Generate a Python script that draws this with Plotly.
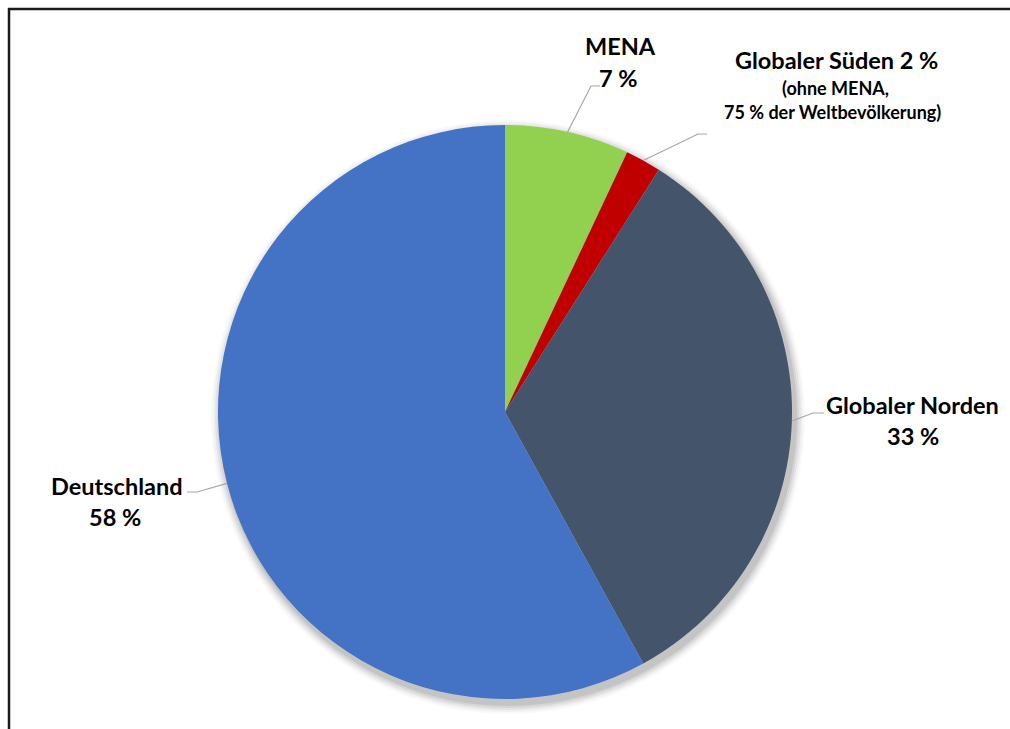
import math
import plotly.graph_objects as go

# Anteile der Regionen (in %), im Uhrzeigersinn ab 12 Uhr
regions = ["MENA", "Globaler Süden", "Globaler Norden", "Deutschland"]
shares = [7, 2, 33, 58]
colors = ["#92D050", "#C00000", "#44546A", "#4472C4"]
sued_note = ["(ohne MENA,", "75 % der Weltbevölkerung)"]

W, H = 1010, 729
CX, CY, R = 505, 412, 287  # pie centre and radius in pixels


def px(x):
    return x / W


def py(y):
    return 1 - y / H


def edge_point(idx):
    """Point on the pie rim at the middle of slice idx (clockwise from top)."""
    total = sum(shares)
    before = sum(shares[:idx])
    ang = 2 * math.pi * (before + shares[idx] / 2) / total
    return CX + R * math.sin(ang), CY - R * math.cos(ang)


fig = go.Figure()
fig.add_trace(go.Pie(
    labels=regions,
    values=shares,
    sort=False,
    direction="clockwise",
    rotation=0,
    marker=dict(colors=colors, line=dict(width=0)),
    textinfo="none",
    hoverinfo="label+percent",
    showlegend=False,
    domain=dict(x=[px(CX - R), px(CX + R)], y=[py(CY + R), py(CY - R)]),
))

shapes = []
# soft drop shadow behind the pie
for k, op in [(10, 0.025), (8, 0.035), (6, 0.05), (4, 0.06), (2, 0.08)]:
    ox, oy = 3, 5
    shapes.append(dict(
        type="circle", xref="paper", yref="paper", layer="below",
        x0=px(CX + ox - R - k), x1=px(CX + ox + R + k),
        y0=py(CY + oy + R + k), y1=py(CY + oy - R - k),
        fillcolor=f"rgba(0,0,0,{op})", line=dict(width=0),
    ))

# leader lines: rim point -> elbow -> horizontal end
elbows = {
    0: [(591, 86), (600, 86)],
    1: [(698, 134), (707, 134)],
    2: [(813, 413), (824, 413)],
    3: [(197, 492), (187, 492)],
}
for i, pts in elbows.items():
    x0, y0 = edge_point(i)
    path = f"M {px(x0)} {py(y0)}"
    for (x, y) in pts:
        path += f" L {px(x)} {py(y)}"
    shapes.append(dict(type="path", xref="paper", yref="paper", path=path,
                       line=dict(color="#A6A6A6", width=1.2)))

# outer frame (top and left edges)
shapes.append(dict(type="line", xref="paper", yref="paper",
                   x0=px(8), x1=px(W + 5), y0=py(9), y1=py(9),
                   line=dict(color="#1A1A1A", width=2.5)))
shapes.append(dict(type="line", xref="paper", yref="paper",
                   x0=px(9), x1=px(9), y0=py(8), y1=py(H + 5),
                   line=dict(color="#1A1A1A", width=2.5)))

FONT = "Lato"
BIG = 23.5
SMALL = 18


def label(text, x, y, size=BIG):
    return dict(text=f"<b>{text}</b>", x=px(x), y=py(y), xref="paper", yref="paper",
                showarrow=False, xanchor="center", yanchor="middle",
                font=dict(family=FONT, size=size, color="#000000"))


ann = [
    label(regions[0], 620, 46),
    label(f"{shares[0]} %", 618, 78),
    label(f"{regions[1]} {shares[1]} %", 836, 60),
    label(sued_note[0], 835, 88, SMALL),
    label(sued_note[1], 832, 112, SMALL),
    label(regions[2], 912, 405),
    label(f"{shares[2]} %", 913, 436),
    label(regions[3], 117, 486),
    label(f"{shares[3]} %", 115, 517),
]

fig.update_layout(
    width=W, height=H,
    margin=dict(l=0, r=0, t=0, b=0),
    paper_bgcolor="white",
    plot_bgcolor="white",
    shapes=shapes,
    annotations=ann,
)

fig.write_html("out.html")
